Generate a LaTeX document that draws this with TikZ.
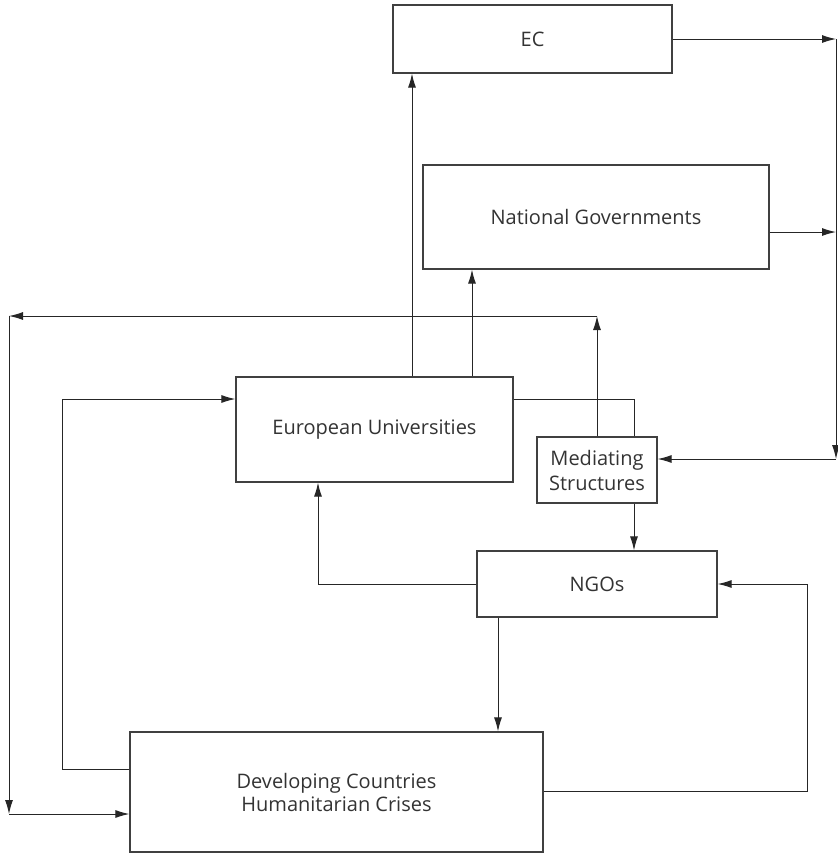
\documentclass[tikz,border=0pt]{standalone}
\usepackage{fontspec}
\setmainfont{Open Sans}
\usetikzlibrary{arrows.meta}

\begin{document}
\begin{tikzpicture}[
  x=0.5pt, y=-0.5pt,
  every node/.style={font=\fontsize{10}{12.5}\selectfont, text=black!80},
  bx/.style={draw=black!75, line width=0.6pt, inner sep=0pt, align=center},
  ar/.style={-{Latex[length=7pt, width=4pt]}, line width=0.5pt, draw=black!85},
  ln/.style={line width=0.5pt, draw=black!85},
]
\useasboundingbox (0,0) rectangle (838,853);

% Boxes
\node[bx, minimum width=139.5pt, minimum height=34pt] (ec) at (532.5,39) {EC};
\node[bx, minimum width=173pt, minimum height=52pt] (ng) at (596,217) {National Governments};
\node[bx, minimum width=138.5pt, minimum height=52.5pt] (eu) at (374.5,429.5) {European Universities};
\node[bx, minimum width=60pt, minimum height=33pt] (ms) at (597,470) {Mediating\\Structures};
\node[bx, minimum width=120pt, minimum height=33pt] (ngo) at (597,584) {NGOs};
\node[bx, minimum width=206.5pt, minimum height=60pt, font=\fontsize{10}{11.5}\selectfont] (dc) at (336.5,792) {Developing Countries\\Humanitarian Crises};

% Corners of the outer loops
\coordinate (rt) at (836,39);
\coordinate (rb) at (836,459);
\coordinate (lt) at (9,316);
\coordinate (lb) at (9,814);

% Right side - EC and governments to mediating structures
\draw[ar] (ec.east) -- (rt);
\draw[ar] (ng.east |- 0,232) -- (rt |- 0,232);
\draw[ar] (rt) -- (rb);
\draw[ar] (rb) -- (ms.east |- rb);

% Universities up to EC and governments
\draw[ar] (eu.north -| 412,0) -- (ec.south -| 412,0);
\draw[ar] (eu.north -| 472,0) -- (ng.south -| 472,0);

% Left side - mediating structures round to developing countries
\draw[ar] (ms.north) -- (ms.north |- lt);
\draw[ar] (ms.north |- lt) -- (lt);
\draw[ar] (lt) -- (lb);
\draw[ar] (lb) -- (dc.west |- lb);

% Middle
\draw[ln] (eu.east |- 0,399) -| (ms.north -| 634,0);
\draw[ar] (ms.south -| 634,0) -- (ngo.north -| 634,0);
\draw[ar] (ngo.west) -| (eu.south -| 318,0);
\draw[ar] (ngo.south -| 498,0) -- (dc.north -| 498,0);

% Developing countries back to NGOs and universities
\draw[ar] (dc.east |- 0,791) -- (807,791) |- (ngo.east);
\draw[ar] (dc.west |- 0,769) -- (62,769) |- (eu.west |- 0,399);
\end{tikzpicture}
\end{document}
